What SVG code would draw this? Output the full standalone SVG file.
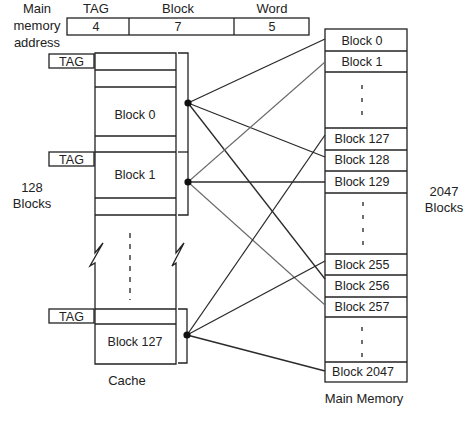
<svg xmlns="http://www.w3.org/2000/svg" width="474" height="423" viewBox="0 0 474 423">
<style>
text{font-family:"Liberation Sans",Arial,sans-serif;font-size:12.5px;fill:#222;text-anchor:middle}
.lbl{font-size:13px}
.box{fill:#fff;stroke:#222;stroke-width:1.3}
.ln{fill:none;stroke:#222;stroke-width:1.3}
.dash{fill:none;stroke:#222;stroke-width:1.3}
.c{stroke:#2a2a2a;stroke-width:1.3;fill:none}
.cg{stroke:#6a6a6a;stroke-width:1.1;fill:none}
.dot{fill:#111}
</style>
<rect width="474" height="423" fill="#fff"/>

<g id="address">
  <text class="lbl" x="37" y="13">Main</text>
  <text class="lbl" x="37" y="30">memory</text>
  <text class="lbl" x="37" y="47">address</text>
  <text class="lbl" x="96" y="13">TAG</text>
  <text class="lbl" x="178" y="13">Block</text>
  <text class="lbl" x="272" y="13">Word</text>
  <rect class="box" x="67" y="18" width="242" height="17"/>
  <line class="ln" x1="129" y1="18" x2="129" y2="35"/>
  <line class="ln" x1="234" y1="18" x2="234" y2="35"/>
  <text x="96" y="31">4</text>
  <text x="178" y="31">7</text>
  <text x="272" y="31">5</text>
</g>

<g id="cache">
  <path class="ln" d="M95,53 H176 V253 L184,243 L172,266 L176,263 V364 H95 V263 L90,266 L103,243 L95,253 Z" fill="#fff"/>
  <line class="ln" x1="95" y1="70" x2="176" y2="70"/>
  <line class="ln" x1="95" y1="87" x2="176" y2="87"/>
  <line class="ln" x1="95" y1="136" x2="176" y2="136"/>
  <line class="ln" x1="95" y1="152" x2="176" y2="152"/>
  <line class="ln" x1="95" y1="198" x2="176" y2="198"/>
  <line class="ln" x1="95" y1="215" x2="176" y2="215"/>
  <line class="ln" x1="95" y1="309" x2="176" y2="309"/>
  <line class="ln" x1="95" y1="324" x2="176" y2="324"/>
  <line class="dash" x1="130" y1="233" x2="130" y2="300" stroke-dasharray="5 6"/>
  <text x="135" y="119">Block 0</text>
  <text x="135" y="179">Block 1</text>
  <text x="135" y="346">Block 127</text>
  <text class="lbl" x="127" y="385">Cache</text>
  <text class="lbl" x="32" y="192">128</text>
  <text class="lbl" x="32" y="208">Blocks</text>
</g>

<g id="tags">
  <rect class="box" x="49" y="54" width="45" height="14"/>
  <text x="71.5" y="65.5">TAG</text>
  <rect class="box" x="49" y="152" width="45" height="14"/>
  <text x="71.5" y="163.5">TAG</text>
  <rect class="box" x="49" y="309" width="45" height="14"/>
  <text x="71.5" y="320.5">TAG</text>
</g>

<g id="brackets">
  <path class="ln" d="M178,53 H188 V215 H178"/>
  <line class="ln" x1="178" y1="152" x2="188" y2="152"/>
  <path class="ln" d="M178,309 H187 V363 H178"/>
</g>

<g id="main-memory">
  <rect class="box" x="325" y="29" width="82" height="353"/>
  <line class="ln" x1="325" y1="51" x2="407" y2="51"/>
  <line class="ln" x1="325" y1="72" x2="407" y2="72"/>
  <line class="ln" x1="325" y1="128" x2="407" y2="128"/>
  <line class="ln" x1="325" y1="150" x2="407" y2="150"/>
  <line class="ln" x1="325" y1="171" x2="407" y2="171"/>
  <line class="ln" x1="325" y1="193" x2="407" y2="193"/>
  <line class="ln" x1="325" y1="254" x2="407" y2="254"/>
  <line class="ln" x1="325" y1="275" x2="407" y2="275"/>
  <line class="ln" x1="325" y1="297" x2="407" y2="297"/>
  <line class="ln" x1="325" y1="317" x2="407" y2="317"/>
  <line class="ln" x1="325" y1="362" x2="407" y2="362"/>
  <line class="dash" x1="362" y1="85" x2="362" y2="116" stroke-dasharray="4 9"/>
  <line class="dash" x1="363" y1="202" x2="363" y2="246" stroke-dasharray="4 9"/>
  <line class="dash" x1="362" y1="327" x2="362" y2="358" stroke-dasharray="4 9"/>
  <text x="362" y="44.5">Block 0</text>
  <text x="362" y="66">Block 1</text>
  <text x="362" y="143">Block 127</text>
  <text x="362" y="164">Block 128</text>
  <text x="362" y="186">Block 129</text>
  <text x="362" y="269">Block 255</text>
  <text x="362" y="290">Block 256</text>
  <text x="362" y="311">Block 257</text>
  <text x="363" y="376">Block 2047</text>
  <text class="lbl" x="364" y="403">Main Memory</text>
  <text class="lbl" x="444" y="196">2047</text>
  <text class="lbl" x="444" y="212">Blocks</text>
</g>

<g id="connectors">
  <line class="c" x1="188" y1="103" x2="325" y2="39"/>
  <line class="c" x1="188" y1="103" x2="325" y2="157"/>
  <line class="c" x1="188" y1="103" x2="325" y2="279"/>
  <line class="cg" x1="188" y1="182" x2="325" y2="62"/>
  <line class="c" x1="188" y1="182" x2="325" y2="182" stroke="#444"/>
  <line class="cg" x1="188" y1="182" x2="325" y2="305"/>
  <line class="c" x1="187" y1="335" x2="325" y2="135"/>
  <line class="c" x1="187" y1="335" x2="325" y2="261"/>
  <line class="c" x1="187" y1="335" x2="325" y2="371"/>
  <circle class="dot" cx="188" cy="103" r="3.6"/>
  <circle class="dot" cx="188" cy="182" r="3.6"/>
  <circle class="dot" cx="187" cy="335" r="3.6"/>
</g>
</svg>
